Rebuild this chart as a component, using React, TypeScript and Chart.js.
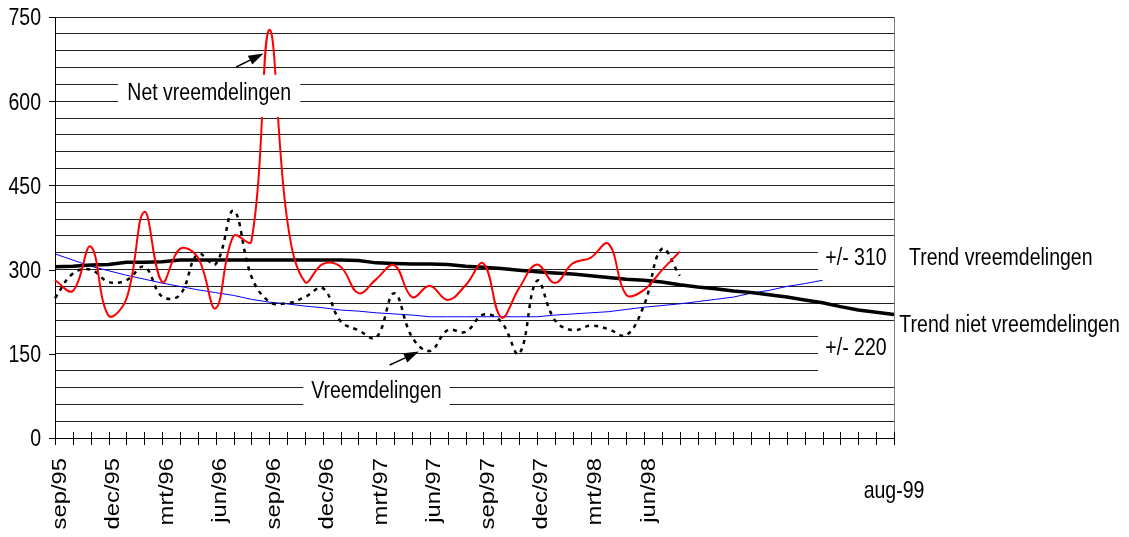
import React, { useEffect, useRef } from 'react';
import { Chart, registerables } from 'chart.js';

Chart.register(...registerables);

// ---- data ----
const months = [
  'sep/95', 'okt/95', 'nov/95', 'dec/95', 'jan/96', 'feb/96', 'mrt/96', 'apr/96', 'mei/96', 'jun/96', 'jul/96', 'aug/96',
  'sep/96', 'okt/96', 'nov/96', 'dec/96', 'jan/97', 'feb/97', 'mrt/97', 'apr/97', 'mei/97', 'jun/97', 'jul/97', 'aug/97',
  'sep/97', 'okt/97', 'nov/97', 'dec/97', 'jan/98', 'feb/98', 'mrt/98', 'apr/98', 'mei/98', 'jun/98', 'jul/98', 'aug/98',
  'sep/98', 'okt/98', 'nov/98', 'dec/98', 'jan/99', 'feb/99', 'mrt/99', 'apr/99', 'mei/99', 'jun/99', 'jul/99', 'aug/99',
];

const netVreemdelingen = [
  281, 262, 341, 218, 248, 403, 278, 337, 322, 231, 360, 350,
  727, 390, 278, 310, 305, 258, 283, 308, 251, 271, 246, 272,
  311, 215, 267, 309, 276, 311, 321, 346, 255, 264, 299, 332,
];

const vreemdelingen = [
  249, 293, 300, 278, 281, 305, 252, 255, 328, 310, 405, 288,
  243, 240, 251, 267, 208, 192, 179, 258, 180, 155, 192, 189,
  220, 207, 150, 280, 210, 192, 200, 194, 183, 237, 337, 289,
];

const trendVreemdelingen = [
  328, 317, 306, 298, 290, 283, 276, 270, 264, 259, 254, 247,
  242, 239, 235, 232, 228, 226, 223, 221, 219, 216, 216, 216,
  216, 216, 216, 216, 219, 221, 223, 225, 229, 233, 236, 239,
  243, 247, 251, 258, 263, 270, 275, 281,
];

const trendNietVreemdelingen = [
  305, 306, 308, 309, 313, 313, 314, 317, 317, 317, 317, 317,
  317, 317, 317, 317, 317, 316, 312, 311, 310, 310, 309, 306,
  304, 302, 299, 296, 294, 292, 289, 286, 283, 281, 278, 273,
  269, 266, 262, 259, 255, 251, 246, 241, 234, 228, 224, 220,
];

const yTickLabels = [0, 150, 300, 450, 600, 750];
const rotatedTickLabels = ['sep/95', 'dec/95', 'mrt/96', 'jun/96', 'sep/96', 'dec/96', 'mrt/97', 'jun/97', 'sep/97', 'dec/97', 'mrt/98', 'jun/98'];
const endTickLabel = 'aug-99';
const endTickMonth = 'aug/99';

// annotation boxes in data coordinates (category index, value)
const noteBoxes = [
  { text: 'Net vreemdelingen', x0: 3.53, x1: 13.74, vTop: 647, vBottom: 572, vBase: 602 },
  { text: 'Vreemdelingen', x0: 13.91, x1: 22.1, vTop: 114, vBottom: 50, vBase: 71 },
  { text: '+/- 310', x0: 42.74, x1: 47.0, vTop: 353, vBottom: 282, vBase: 308 },
  { text: '+/- 220', x0: 42.74, x1: 47.0, vTop: 196, vBottom: 112, vBase: 148 },
];
const noteArrows = [
  { fx: 10.15, fv: 661, tx: 11.68, tv: 685 },
  { fx: 18.75, fv: 130, tx: 20.38, tv: 154 },
];
const sideLabels = [
  { text: 'Trend vreemdelingen', x: 47.84, v: 308 },
  { text: 'Trend niet vreemdelingen', x: 47.3, v: 189 },
];

const FONT = '19.5px "Liberation Sans", Arial, sans-serif';
const VS = 1.22;

function drawText(ctx: CanvasRenderingContext2D, text: string, x: number, y: number, align: CanvasTextAlign, rotate = false) {
  ctx.save();
  ctx.translate(x, y);
  ctx.scale(1, VS);
  if (rotate) ctx.rotate(-Math.PI / 2);
  ctx.font = FONT;
  ctx.fillStyle = '#000';
  ctx.textAlign = align;
  ctx.textBaseline = 'alphabetic';
  ctx.fillText(text, 0, 0);
  ctx.restore();
}

const decorPlugin = {
  id: 'decor',
  afterDatasetsDraw(chart: any) {
    const { ctx, chartArea, scales } = chart;
    const xs = scales.x;
    const ys = scales.y;
    ctx.save();
    // right border
    ctx.strokeStyle = '#808080';
    ctx.lineWidth = 1;
    ctx.beginPath();
    const rx = Math.round(chartArea.right) + 0.5;
    ctx.moveTo(rx, chartArea.top);
    ctx.lineTo(rx, chartArea.bottom);
    ctx.stroke();

    // note boxes
    for (const b of noteBoxes) {
      const x0 = xs.getPixelForValue(b.x0);
      const x1 = xs.getPixelForValue(b.x1);
      const y0 = ys.getPixelForValue(b.vTop);
      const y1 = ys.getPixelForValue(b.vBottom);
      ctx.fillStyle = '#fff';
      ctx.fillRect(x0, y0, x1 - x0, y1 - y0);
      drawText(ctx, b.text, (x0 + x1) / 2, ys.getPixelForValue(b.vBase), 'center');
    }
    // arrows
    for (const a of noteArrows) {
      const fx = xs.getPixelForValue(a.fx);
      const fy = ys.getPixelForValue(a.fv);
      const tx = xs.getPixelForValue(a.tx);
      const ty = ys.getPixelForValue(a.tv);
      const ang = Math.atan2(ty - fy, tx - fx);
      const L = 15, W = 5;
      const bx = tx - L * Math.cos(ang);
      const by = ty - L * Math.sin(ang);
      ctx.strokeStyle = '#000';
      ctx.lineWidth = 1.5;
      ctx.beginPath();
      ctx.moveTo(fx, fy);
      ctx.lineTo(bx, by);
      ctx.stroke();
      ctx.fillStyle = '#000';
      ctx.beginPath();
      ctx.moveTo(tx, ty);
      ctx.lineTo(bx + W * Math.sin(ang), by - W * Math.cos(ang));
      ctx.lineTo(bx - W * Math.sin(ang), by + W * Math.cos(ang));
      ctx.closePath();
      ctx.fill();
    }
    // side labels
    for (const s of sideLabels) {
      drawText(ctx, s.text, xs.getPixelForValue(s.x), ys.getPixelForValue(s.v), 'left');
    }

    // axis tick marks
    ctx.strokeStyle = '#000';
    ctx.lineWidth = 1;
    ctx.beginPath();
    for (let i = 0; i < months.length; i++) {
      const x = Math.round(xs.getPixelForValue(i)) + 0.5;
      ctx.moveTo(x, chartArea.bottom - 6);
      ctx.lineTo(x, chartArea.bottom + 7);
    }
    for (const v of yTickLabels) {
      const y = Math.round(ys.getPixelForValue(v)) + 0.5;
      ctx.moveTo(chartArea.left - 6, y);
      ctx.lineTo(chartArea.left, y);
    }
    ctx.stroke();

    // y tick labels
    for (const v of yTickLabels) {
      drawText(ctx, String(v), chartArea.left - 14, ys.getPixelForValue(v) + 8.3, 'right');
    }
    // x tick labels
    for (const lab of rotatedTickLabels) {
      const i = months.indexOf(lab);
      drawText(ctx, lab, xs.getPixelForValue(i) + 10.5, chartArea.bottom + 20, 'right', true);
    }
    drawText(ctx, endTickLabel, xs.getPixelForValue(months.indexOf(endTickMonth)), chartArea.bottom + 60, 'center');
    ctx.restore();
  },
};

export default function App() {
  const ref = useRef<HTMLCanvasElement | null>(null);
  useEffect(() => {
    if (!ref.current) return;
    const chart = new Chart(ref.current, {
      type: 'line',
      data: {
        labels: months,
        datasets: [
          {
            label: 'Net vreemdelingen',
            data: netVreemdelingen,
            borderColor: '#ff0000',
            borderWidth: 2,
            tension: 0.4,
            pointRadius: 0,
            fill: false,
            order: 1,
          },
          {
            label: 'Vreemdelingen',
            data: vreemdelingen,
            borderColor: '#000000',
            borderWidth: 2.5,
            borderDash: [4, 5],
            tension: 0.4,
            pointRadius: 0,
            fill: false,
            order: 2,
          },
          {
            label: 'Trend niet vreemdelingen',
            data: trendNietVreemdelingen,
            borderColor: '#000000',
            borderWidth: 3.5,
            tension: 0,
            pointRadius: 0,
            fill: false,
            order: 3,
          },
          {
            label: 'Trend vreemdelingen',
            data: trendVreemdelingen,
            borderColor: '#0000ff',
            borderWidth: 1,
            tension: 0,
            pointRadius: 0,
            fill: false,
            order: 4,
          },
        ],
      },
      options: {
        responsive: false,
        animation: false,
        devicePixelRatio: 1,
        layout: { padding: { left: 55, top: 17, right: 235, bottom: 99 } },
        plugins: { legend: { display: false }, tooltip: { enabled: false } },
        scales: {
          x: {
            type: 'category',
            offset: false,
            grid: { display: false, drawTicks: false },
            ticks: { display: false },
            border: { display: true, color: '#000', width: 1 },
          },
          y: {
            min: 0,
            max: 750,
            ticks: { display: false, stepSize: 30 },
            grid: { color: '#222222', lineWidth: 1, drawTicks: false },
            border: { display: true, color: '#000', width: 1 },
          },
        },
      },
      plugins: [decorPlugin],
    });
    return () => chart.destroy();
  }, []);
  return (
    <div style={{ position: 'fixed', left: 0, top: 0, width: 1129, height: 537, background: '#fff' }}>
      <canvas ref={ref} width={1129} height={537} style={{ display: 'block' }} />
    </div>
  );
}
